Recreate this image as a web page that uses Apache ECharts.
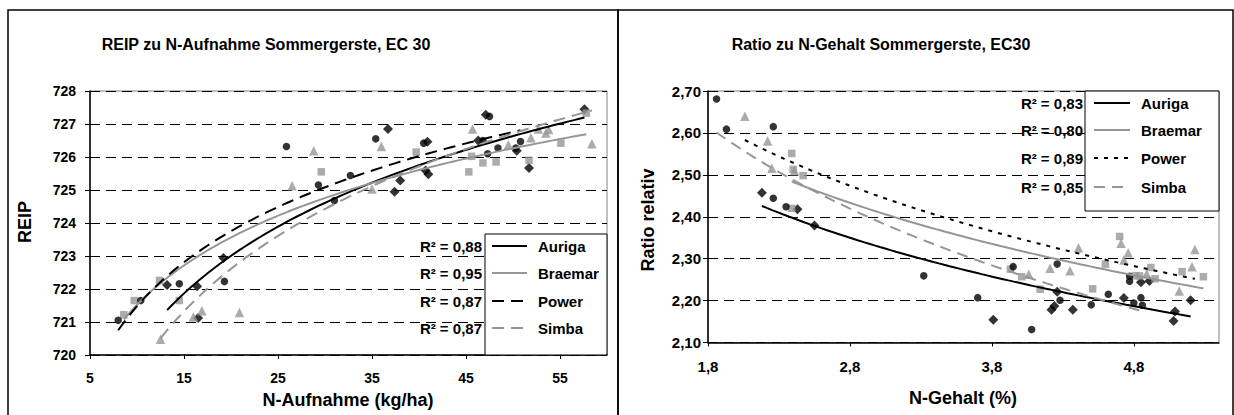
<!DOCTYPE html>
<html>
<head>
<meta charset="utf-8">
<script src="https://cdn.jsdelivr.net/npm/echarts@6/dist/echarts.min.js"></script>
<style>
  html, body { margin: 0; padding: 0; background: #fff; }
  #chart { width: 1234px; height: 415px; }
</style>
</head>
<body>
<div id="chart"></div>
<script>
// ---- REIP zu N-Aufnahme (Sommergerste, EC 30) ----
const varieties = ['Auriga', 'Braemar', 'Power', 'Simba'];
const reipR2 = ['0,88', '0,95', '0,87', '0,87'];

const aurigaUptake = [13.2, 16.4, 16.5, 19.2, 36.7, 37.4, 38.0, 40.9, 40.7, 41.0, 46.3, 47.1, 50.4, 51.7, 57.6];
const aurigaReip   = [722.12, 722.08, 721.12, 722.94, 726.85, 724.95, 725.29, 726.46, 725.59, 725.48, 726.50, 727.28, 726.19, 725.67, 727.45];

const braemarUptake = [8.6, 9.7, 12.4, 14.5, 29.6, 39.7, 45.3, 45.6, 46.8, 48.2, 51.7, 55.1, 57.8];
const braemarReip   = [721.22, 721.65, 722.26, 721.65, 725.55, 726.15, 725.55, 726.02, 725.82, 725.85, 725.90, 726.42, 727.33];

const powerUptake = [8.0, 10.4, 14.5, 19.3, 25.9, 29.3, 31.0, 32.7, 35.4, 40.5, 46.8, 47.5, 47.3, 48.4, 50.3, 50.8];
const powerReip   = [721.05, 721.65, 722.16, 722.23, 726.32, 725.15, 724.68, 725.44, 726.55, 726.42, 726.50, 727.23, 726.10, 726.27, 726.27, 726.47];

const simbaUptake = [12.5, 16.0, 16.9, 20.9, 26.5, 28.8, 35.0, 36.0, 45.7, 49.5, 51.9, 52.7, 53.5, 53.8, 58.4];
const simbaReip   = [720.48, 721.15, 721.34, 721.29, 725.13, 726.19, 725.03, 726.32, 726.85, 726.37, 726.58, 726.85, 726.73, 726.83, 726.40];

// ---- Ratio zu N-Gehalt (Sommergerste, EC30) ----
const ratioR2 = ['0,83', '0,80', '0,89', '0,85'];

const aurigaN     = [2.18, 2.43, 2.55, 3.81, 4.22, 4.24, 4.26, 4.37, 4.73, 4.85, 4.91, 5.08, 5.09, 5.20];
const aurigaRatio = [2.457, 2.418, 2.379, 2.154, 2.178, 2.187, 2.221, 2.178, 2.206, 2.244, 2.247, 2.151, 2.174, 2.201];

const braemarN     = [2.39, 2.40, 2.47, 2.39, 3.93, 4.01, 4.14, 4.51, 4.60, 4.70, 4.81, 4.84, 4.92, 4.95, 5.14, 5.29];
const braemarRatio = [2.551, 2.513, 2.498, 2.420, 2.275, 2.257, 2.227, 2.228, 2.287, 2.353, 2.259, 2.259, 2.279, 2.252, 2.269, 2.257];

const powerN     = [2.06, 2.22, 2.25, 2.41, 4.06, 4.21, 4.35, 4.41, 4.71, 4.73, 4.76, 4.89, 5.12, 5.21, 5.23];
const powerRatio = [2.640, 2.581, 2.516, 2.510, 2.263, 2.277, 2.271, 2.326, 2.337, 2.297, 2.314, 2.264, 2.223, 2.281, 2.322];

const simbaN     = [1.86, 1.93, 2.26, 2.26, 2.35, 3.32, 3.70, 3.95, 4.08, 4.26, 4.28, 4.50, 4.62, 4.77, 4.77, 4.80, 4.85, 4.86];
const simbaRatio = [2.681, 2.609, 2.615, 2.444, 2.424, 2.259, 2.207, 2.281, 2.131, 2.287, 2.201, 2.190, 2.215, 2.258, 2.246, 2.194, 2.207, 2.189];

// axis tick values
const reipTicks  = { min: 720, max: 728, step: 1 };
const uptakeTicks = { min: 5, max: 60, step: 10 };
const ratioTicks = { min: 2.1, max: 2.7, step: 0.1 };
const nTicks     = { min: 1.8, max: 5.4, step: 1 };

const BLACK = '#000000';
const GRAY = '#969696';
const FONT = '"Liberation Sans", Arial, sans-serif';

// logarithmic least-squares trend line (y = a*ln(x) + b) over the range of the data
function logTrend(xs, ys) {
  const n = xs.length;
  const lx = xs.map(Math.log);
  const mx = lx.reduce((s, v) => s + v, 0) / n;
  const my = ys.reduce((s, v) => s + v, 0) / n;
  let sxy = 0, sxx = 0;
  for (let i = 0; i < n; i++) {
    sxy += (lx[i] - mx) * (ys[i] - my);
    sxx += (lx[i] - mx) * (lx[i] - mx);
  }
  const a = sxy / sxx, b = my - a * mx;
  const lo = Math.min(...xs), hi = Math.max(...xs);
  const pts = [];
  for (let k = 0; k <= 80; k++) {
    const x = lo + (hi - lo) * k / 80;
    pts.push([x, a * Math.log(x) + b]);
  }
  return pts;
}
const zip = (xs, ys) => xs.map((x, i) => [x, ys[i]]);

const markers = {
  diamond: { symbol: 'diamond', size: 10, color: BLACK },
  square: { symbol: 'rect', size: 7.5, color: GRAY },
  circle: { symbol: 'circle', size: 7.5, color: BLACK },
  triangle: { symbol: 'triangle', size: 9.5, color: GRAY }
};

// per chart: data, marker, trend line style
const reipSets = [
  { name: 'Auriga', x: aurigaUptake, y: aurigaReip, marker: markers.diamond, line: { color: BLACK, type: 'solid' } },
  { name: 'Braemar', x: braemarUptake, y: braemarReip, marker: markers.square, line: { color: GRAY, type: 'solid' } },
  { name: 'Power', x: powerUptake, y: powerReip, marker: markers.circle, line: { color: BLACK, type: [12, 7] } },
  { name: 'Simba', x: simbaUptake, y: simbaReip, marker: markers.triangle, line: { color: GRAY, type: [12, 7] } }
];
const ratioSets = [
  { name: 'Auriga', x: aurigaN, y: aurigaRatio, marker: markers.diamond, line: { color: BLACK, type: 'solid' } },
  { name: 'Braemar', x: braemarN, y: braemarRatio, marker: markers.square, line: { color: GRAY, type: 'solid' } },
  { name: 'Power', x: powerN, y: powerRatio, marker: markers.triangle, line: { color: BLACK, type: [4, 6] } },
  { name: 'Simba', x: simbaN, y: simbaRatio, marker: markers.circle, line: { color: GRAY, type: [11, 7] } }
];

function buildSeries(sets, axisIndex) {
  const out = [];
  sets.forEach(s => {
    out.push({
      type: 'scatter', name: s.name, xAxisIndex: axisIndex, yAxisIndex: axisIndex,
      data: zip(s.x, s.y), symbol: s.marker.symbol, symbolSize: s.marker.size,
      itemStyle: { color: s.marker.color }, z: 3
    });
  });
  sets.forEach(s => {
    out.push({
      type: 'line', name: s.name + ' Trend', xAxisIndex: axisIndex, yAxisIndex: axisIndex,
      data: logTrend(s.x, s.y), showSymbol: false, symbol: 'none', smooth: false,
      lineStyle: { color: s.line.color, width: 2, type: s.line.type }, z: 4
    });
  });
  return out;
}

const tickLabel = (size) => ({ color: BLACK, fontWeight: 'bold', fontSize: size, fontFamily: FONT });
const gridDash = { show: true, lineStyle: { color: BLACK, width: 1, type: [10, 6] } };

function txt(x, y, text, size, align, vAlign, extra) {
  return Object.assign({
    type: 'text', x: x, y: y, z: 120,
    style: {
      text: text, font: 'bold ' + size + 'px ' + FONT, fill: BLACK,
      textAlign: align, textVerticalAlign: vAlign, align: align, verticalAlign: vAlign
    }
  }, extra || {});
}

function legendBlock(box, rows, lineX, textX, r2X, r2Values, sets) {
  const els = [{
    type: 'rect', z: 110,
    shape: { x: box.x, y: box.y, width: box.w, height: box.h },
    style: { fill: '#ffffff', stroke: BLACK, lineWidth: 1 }
  }];
  sets.forEach((s, i) => {
    els.push({
      type: 'line', z: 115,
      shape: { x1: lineX[0], y1: rows[i], x2: lineX[1], y2: rows[i] },
      style: { stroke: s.line.color, lineWidth: 2, lineDash: s.line.type === 'solid' ? null : s.line.type }
    });
    els.push(txt(textX, rows[i], s.name, 15, 'left', 'middle'));
    els.push(txt(r2X, rows[i], 'R\u00B2 = ' + r2Values[i], 15, 'right', 'middle'));
  });
  return els;
}

const graphics = [
  // panel frames
  { type: 'rect', z: 120, shape: { x: 8, y: 10, width: 610, height: 420 }, style: { fill: null, stroke: BLACK, lineWidth: 1.5 } },
  { type: 'rect', z: 120, shape: { x: 618, y: 10, width: 615, height: 420 }, style: { fill: null, stroke: BLACK, lineWidth: 1.5 } },
  // titles
  txt(266, 44, 'REIP zu N-Aufnahme Sommergerste, EC 30', 16, 'center', 'middle'),
  txt(881, 44, 'Ratio zu N-Gehalt Sommergerste, EC30', 16, 'center', 'middle'),
  // axis names
  txt(25, 222, 'REIP', 18, 'center', 'middle', { rotation: Math.PI / 2 }),
  txt(348, 400, 'N-Aufnahme (kg/ha)', 18, 'center', 'middle'),
  txt(648, 220, 'Ratio relativ', 18, 'center', 'middle', { rotation: Math.PI / 2 }),
  txt(963, 398, 'N-Gehalt (%)', 18, 'center', 'middle')
].concat(
  legendBlock({ x: 485, y: 234, w: 122, h: 121 }, [246, 273, 301, 328], [492, 527], 538, 482, reipR2, reipSets),
  legendBlock({ x: 1085, y: 91, w: 134, h: 120 }, [103, 130, 158, 187], [1094, 1130], 1141, 1083, ratioR2, ratioSets)
);

const option = {
  animation: false,
  backgroundColor: '#ffffff',
  grid: [
    { left: 90, top: 91, width: 517, height: 264, show: true, borderColor: '#808080', borderWidth: 1, backgroundColor: '#ffffff' },
    { left: 708, top: 91, width: 511, height: 251.5, show: true, borderColor: '#808080', borderWidth: 1, backgroundColor: '#ffffff' }
  ],
  xAxis: [
    {
      type: 'value', gridIndex: 0, min: uptakeTicks.min, max: uptakeTicks.max, interval: uptakeTicks.step,
      axisLine: { show: true, onZero: false, lineStyle: { color: BLACK, width: 1.5 } },
      axisTick: { show: true, length: 4, lineStyle: { color: BLACK } },
      axisLabel: Object.assign(tickLabel(14), { margin: 16, showMaxLabel: false }),
      splitLine: { show: false }
    },
    {
      type: 'value', gridIndex: 1, min: nTicks.min, max: nTicks.max, interval: nTicks.step,
      axisLine: { show: true, onZero: false, lineStyle: { color: BLACK, width: 1.5 } },
      axisTick: { show: true, length: 4, lineStyle: { color: BLACK } },
      axisLabel: Object.assign(tickLabel(15), { margin: 16, showMaxLabel: false, formatter: v => v.toFixed(1).replace('.', ',') }),
      splitLine: { show: false }
    }
  ],
  yAxis: [
    {
      type: 'value', gridIndex: 0, min: reipTicks.min, max: reipTicks.max, interval: reipTicks.step,
      axisLine: { show: true, onZero: false, lineStyle: { color: BLACK, width: 1.5 } },
      axisTick: { show: true, length: 5, lineStyle: { color: BLACK } },
      axisLabel: Object.assign(tickLabel(14), { margin: 14 }),
      splitLine: gridDash
    },
    {
      type: 'value', gridIndex: 1, min: ratioTicks.min, max: ratioTicks.max, interval: ratioTicks.step,
      axisLine: { show: true, onZero: false, lineStyle: { color: BLACK, width: 1.5 } },
      axisTick: { show: true, length: 5, lineStyle: { color: BLACK } },
      axisLabel: Object.assign(tickLabel(15), { margin: 7, formatter: v => v.toFixed(2).replace('.', ',') }),
      splitLine: gridDash
    }
  ],
  series: buildSeries(reipSets, 0).concat(buildSeries(ratioSets, 1)),
  graphic: { elements: graphics }
};

const chart = echarts.init(document.getElementById('chart'), null, { renderer: 'svg', devicePixelRatio: 1 });
chart.setOption(option);
</script>
</body>
</html>
